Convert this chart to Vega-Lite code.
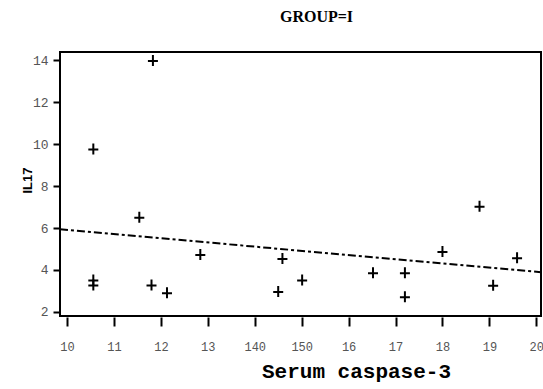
{
  "$schema": "https://vega.github.io/schema/vega-lite/v6.json",
  "autosize": "none",
  "width": 481,
  "height": 264,
  "padding": {"left": 60, "top": 52, "right": 2, "bottom": 73},
  "background": "white",
  "title": {"text": "GROUP=I", "font": "Liberation Serif", "fontSize": 16, "fontWeight": "bold", "color": "black", "anchor": "middle", "dx": 16, "offset": 26},
  "config": {"view": {"stroke": "black", "strokeWidth": 2}},
  "datasets": {
    "pts": [
      {"caspase": 10.56, "il17": 9.75},
      {"caspase": 10.56, "il17": 3.49},
      {"caspase": 10.56, "il17": 3.26},
      {"caspase": 11.54, "il17": 6.49},
      {"caspase": 11.83, "il17": 13.97},
      {"caspase": 11.8, "il17": 3.26},
      {"caspase": 12.13, "il17": 2.88},
      {"caspase": 12.84, "il17": 4.71},
      {"caspase": 14.5, "il17": 2.94},
      {"caspase": 14.59, "il17": 4.52},
      {"caspase": 15.01, "il17": 3.49},
      {"caspase": 16.52, "il17": 3.84},
      {"caspase": 17.2, "il17": 3.84},
      {"caspase": 17.2, "il17": 2.7},
      {"caspase": 18.0, "il17": 4.86},
      {"caspase": 18.79, "il17": 7.01},
      {"caspase": 19.08, "il17": 3.24},
      {"caspase": 19.59, "il17": 4.56}
    ],
    "fit": [
      {"caspase": 9.85, "il17": 5.94},
      {"caspase": 20.1, "il17": 3.89}
    ]
  },
  "layer": [
    {
      "data": {"name": "fit"},
      "mark": {"type": "line", "color": "black", "strokeWidth": 2, "strokeDash": [8, 3, 3, 3], "clip": true},
      "encoding": {
        "x": {"field": "caspase", "type": "quantitative"},
        "y": {"field": "il17", "type": "quantitative"}
      }
    },
    {
      "data": {"name": "pts"},
      "mark": {"type": "point", "shape": "M-1,0L1,0M0,-1.2L0,1", "filled": false, "stroke": "black", "strokeWidth": 2, "size": 100, "opacity": 1},
      "encoding": {
        "x": {
          "field": "caspase", "type": "quantitative",
          "scale": {"domain": [9.85, 20.1], "nice": false, "zero": false},
          "axis": {
            "values": [10, 11, 12, 13, 14, 15, 16, 17, 18, 19, 20],
            "labelExpr": "datum.value == 14 ? '140' : datum.value == 15 ? '150' : datum.label",
            "grid": false, "domain": false, "offset": 1,
            "tickSize": 9, "tickWidth": 2, "tickColor": "black",
            "labelFont": "Liberation Mono", "labelFontSize": 12, "labelColor": "#555", "labelPadding": 15,
            "title": "Serum caspase-3",
            "titleFont": "Liberation Mono", "titleFontSize": 21, "titleFontWeight": "bold", "titleColor": "black",
            "titleX": 296, "titleY": 60, "titleAnchor": "middle", "titleBaseline": "alphabetic"
          }
        },
        "y": {
          "field": "il17", "type": "quantitative",
          "scale": {"domain": [1.8, 14.4], "nice": false, "zero": false},
          "axis": {
            "values": [2, 4, 6, 8, 10, 12, 14],
            "grid": false, "domain": false,
            "tickSize": 7, "tickWidth": 2, "tickColor": "black",
            "labelFont": "Liberation Mono", "labelFontSize": 13, "labelColor": "#555", "labelPadding": 5,
            "title": "IL17",
            "titleFont": "Liberation Sans", "titleFontSize": 13, "titleFontWeight": "bold", "titleColor": "black",
            "titleX": -33, "titleY": 128, "titleAngle": -90, "titleAnchor": "middle", "titleBaseline": "middle"
          }
        }
      }
    }
  ]
}
